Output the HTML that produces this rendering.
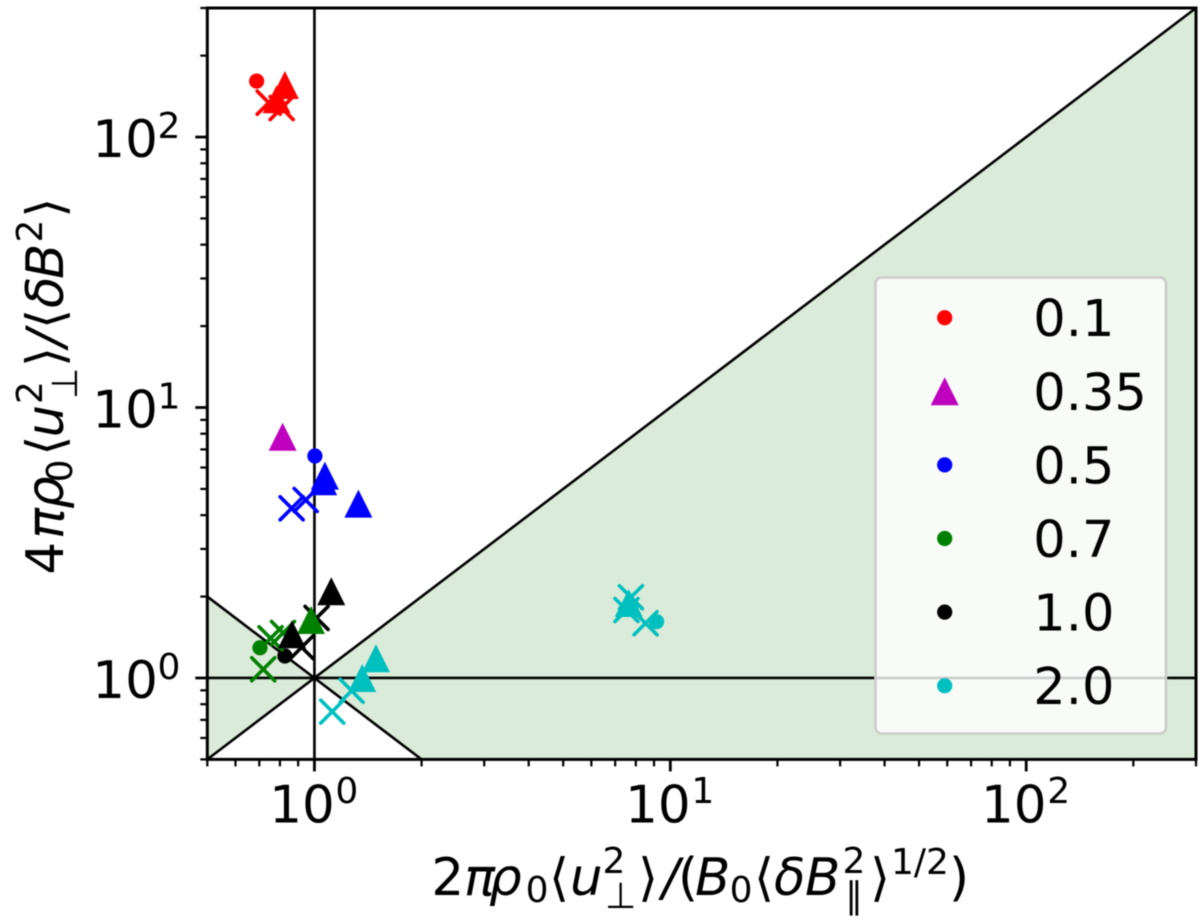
<!DOCTYPE html>
<html lang="en">
<head>
<meta charset="utf-8">
<title>Scatter chart</title>
<style>
html,body{margin:0;padding:0;background:#fff;}
svg{display:block;filter:blur(0.5px);}
text{font-family:"DejaVu Sans","Liberation Sans",sans-serif;fill:#000;}
.it{font-style:italic;}
</style>
</head>
<body>
<svg id="chart" xmlns="http://www.w3.org/2000/svg" width="1200" height="924" viewBox="0 0 1200 924">
  <g id="regions"></g>
  <g id="refs"></g>
  <g id="marks"></g>
  <g id="axes"></g>
  <g id="legend"></g>

  <g font-size="51.5">
    <text x="431.4" y="895">2</text>
    <text class="it" x="464" y="895">π</text>
    <text class="it" x="489" y="895">ρ</text>
    <text x="525.6" y="902" font-size="36">0</text>
    <text x="549" y="895">⟨</text>
    <text class="it" x="570" y="895">u</text>
    <text x="602.5" y="873" font-size="36">2</text>
    <text x="605" y="908" font-size="36">⊥</text>
    <text x="638" y="895">⟩</text>
    <text class="it" x="662" y="895">/</text>
    <text x="678" y="895">(</text>
    <text class="it" x="695" y="895">B</text>
    <text x="729.6" y="902" font-size="36">0</text>
    <text x="754" y="895">⟨</text>
    <text class="it" x="774" y="895">δ</text>
    <text class="it" x="805" y="895">B</text>
    <text x="842.5" y="873" font-size="36">2</text>
    <text x="845" y="908" font-size="36">∥</text>
    <text x="870" y="895">⟩</text>
    <text x="891" y="874" font-size="36">1/2</text>
    <text x="949" y="895">)</text>
  </g>

  <g font-size="51.5" transform="translate(63,0) rotate(-90)">
    <text x="-574.6" y="0">4</text>
    <text class="it" x="-539" y="0">π</text>
    <text class="it" x="-509" y="0">ρ</text>
    <text x="-482.4" y="9" font-size="36">0</text>
    <text x="-455.7" y="0">⟨</text>
    <text class="it" x="-437.5" y="0">u</text>
    <text x="-404" y="-21" font-size="36">2</text>
    <text x="-399" y="14" font-size="36">⊥</text>
    <text x="-367" y="0">⟩</text>
    <text class="it" x="-347" y="0">/</text>
    <text x="-329" y="0">⟨</text>
    <text class="it" x="-308" y="0">δ</text>
    <text class="it" x="-279" y="0">B</text>
    <text x="-242.5" y="-21" font-size="36">2</text>
    <text x="-217.7" y="0">⟩</text>
  </g>
</svg>

<script>
const xTickLabels = ['0', '1', '2'];
const yTickLabels = ['0', '1', '2'];
const xMinorTicks = [0.5, 0.6, 0.7, 0.8, 0.9, 2, 3, 4, 5, 6, 7, 8, 9, 20, 30, 40, 50, 60, 70, 80, 90, 200, 300];
const yMinorTicks = [0.5, 0.6, 0.7, 0.8, 0.9, 2, 3, 4, 5, 6, 7, 8, 9, 20, 30, 40, 50, 60, 70, 80, 90, 200, 300];

const legendLabels = ['0.1', '0.35', '0.5', '0.7', '1.0', '2.0'];
const legendShapes = ['circle', 'triangle', 'circle', 'circle', 'circle', 'circle'];

const circleSeries = ['0.1', '0.5', '0.7', '1.0', '2.0', '2.0'];
const circleX = [0.688, 1.003, 0.703, 0.826, 9.15, 7.75];
const circleY = [161, 6.62, 1.294, 1.206, 1.615, 1.845];

const crossSeries = ['0.1', '0.1', '0.5', '0.5', '0.7', '0.7', '0.7', '1.0', '1.0', '2.0', '2.0', '2.0', '2.0', '2.0'];
const crossX = [0.744, 0.809, 0.863, 0.945, 0.718, 0.753, 0.816, 1.014, 0.921, 1.272, 1.122, 8.52, 7.75, 7.53];
const crossY = [134, 128, 4.24, 4.55, 1.077, 1.402, 1.467, 1.667, 1.299, 0.897, 0.751, 1.593, 1.988, 1.784];

const triangleSeries = ['0.1', '0.1', '0.35', '0.5', '0.5', '0.5', '0.7', '1.0', '1.0', '2.0', '2.0', '2.0'];
const triangleX = [0.826, 0.783, 0.814, 1.07, 1.058, 1.329, 0.978, 1.115, 0.865, 1.489, 1.362, 7.64];
const triangleY = [155.7, 138, 7.80, 5.60, 5.34, 4.41, 1.638, 2.092, 1.451, 1.183, 1.0, 1.893];

const seriesColor = {'0.1':'#ff0000','0.35':'#bf00bf','0.5':'#0000ff','0.7':'#008000','1.0':'#000000','2.0':'#00bfbf'};

const NS = 'http://www.w3.org/2000/svg';
const xDomain = [0.5, 300];
const yDomain = [0.5, 300];
const plotLeft = 207.3, plotRight = 1196, plotTop = 8, plotBottom = 759.4;
const xDecade = (plotRight - plotLeft) / (Math.log10(xDomain[1]) - Math.log10(xDomain[0]));
const yDecade = (plotBottom - plotTop) / (Math.log10(yDomain[1]) - Math.log10(yDomain[0]));
function sx(v){ return plotLeft + (Math.log10(v) - Math.log10(xDomain[0])) * xDecade; }
function sy(v){ return plotBottom - (Math.log10(v) - Math.log10(yDomain[0])) * yDecade; }
function mk(tag, attrs, parent, txt){
  const el = document.createElementNS(NS, tag);
  for (const k in attrs) el.setAttribute(k, attrs[k]);
  if (txt !== undefined) el.textContent = txt;
  parent.appendChild(el);
  return el;
}
const R_CIRCLE = 7.6, R_TRI = 14, R_CROSS = 11.5;
function triPts(px, py){
  return (px)+','+(py-R_TRI)+' '+(px-R_TRI)+','+(py+R_TRI)+' '+(px+R_TRI)+','+(py+R_TRI);
}

/* shaded regions */
const regions = document.getElementById('regions');
function polyPts(pairs){ return pairs.map(p => sx(p[0]) + ',' + sy(p[1])).join(' '); }
const leftRegion = mk('polygon', {points: polyPts([[0.5,2],[1,1],[0.5,0.5]]), fill:'#dbebd9'}, regions);


const rightRegion = mk('polygon', {points: polyPts([[1,1],[2,0.5],[300,0.5],[300,300]]), fill:'#dbebd9'}, regions);



/* reference lines */
const refs = document.getElementById('refs');
function refLine(a, b, name){
  const l = mk('line', {x1:sx(a[0]), y1:sy(a[1]), x2:sx(b[0]), y2:sy(b[1]), stroke:'#000', 'stroke-width':2.6}, refs);
  
  
}
refLine([0.5,0.5],[300,300],'diagonal-line');
refLine([0.5,2],[2,0.5],'anti-diagonal-line');
refLine([1,0.5],[1,300],'vertical-line-x1');
refLine([0.5,1],[300,1],'horizontal-line-y1');

/* marks */
const marks = document.getElementById('marks');
circleX.forEach((v, i) => {
  const c = mk('circle', {cx:sx(v), cy:sy(circleY[i]), r:R_CIRCLE, fill:seriesColor[circleSeries[i]]}, marks);
  
  
});
crossX.forEach((v, i) => {
  const px = sx(v), py = sy(crossY[i]);
  const d = 'M'+(px-R_CROSS)+' '+(py-R_CROSS)+'L'+(px+R_CROSS)+' '+(py+R_CROSS)+'M'+(px-R_CROSS)+' '+(py+R_CROSS)+'L'+(px+R_CROSS)+' '+(py-R_CROSS);
  const p = mk('path', {d:d, fill:'none', stroke:seriesColor[crossSeries[i]], 'stroke-width':3.6, 'stroke-linecap':'round'}, marks);
  
  
});
triangleX.forEach((v, i) => {
  const t = mk('polygon', {points:triPts(sx(v), sy(triangleY[i])), fill:seriesColor[triangleSeries[i]]}, marks);
  
  
});

/* axes */
const axes = document.getElementById('axes');
const TICK_W = 2.8;
xMinorTicks.forEach(v => {
  const l = mk('line', {x1:sx(v), x2:sx(v), y1:plotBottom, y2:plotBottom+7, stroke:'#000', 'stroke-width':2.2}, axes);
  
  
});
yMinorTicks.forEach(v => {
  const l = mk('line', {y1:sy(v), y2:sy(v), x1:plotLeft, x2:plotLeft-7, stroke:'#000', 'stroke-width':2.2}, axes);
  
  
});
xTickLabels.forEach(e => {
  const px = sx(Math.pow(10, +e));
  const l = mk('line', {x1:px, x2:px, y1:plotBottom, y2:plotBottom+12, stroke:'#000', 'stroke-width':TICK_W}, axes);
  
  
  const t = mk('text', {x:px-45.2, y:822.7, 'font-size':51.5}, axes, '10');
  
  
  const s = mk('text', {x:px+21, y:803, 'font-size':36}, axes, e);
  
  
});
yTickLabels.forEach(e => {
  const py = sy(Math.pow(10, +e));
  const l = mk('line', {x1:plotLeft, x2:plotLeft-12, y1:py, y2:py, stroke:'#000', 'stroke-width':TICK_W}, axes);
  
  
  const t = mk('text', {x:92.3, y:py+20, 'font-size':51.5}, axes, '10');
  
  
  const s = mk('text', {x:157.5, y:py+1, 'font-size':36}, axes, e);
  
  
});
const frame = mk('rect', {x:plotLeft, y:plotTop, width:plotRight-plotLeft, height:plotBottom-plotTop, fill:'none', stroke:'#000', 'stroke-width':3}, axes);



/* legend */
const legend = document.getElementById('legend');
const legendBox = mk('rect', {x:875.5, y:277.5, width:290.5, height:456, rx:6, ry:6, fill:'#ffffff', 'fill-opacity':0.8, stroke:'#cccccc', 'stroke-width':2.6}, legend);


legendLabels.forEach((lab, i) => {
  const y = 317.7 + i * 73.6;
  const color = seriesColor[lab];
  if (legendShapes[i] === 'triangle') {
    const m = mk('polygon', {points:triPts(944.7, y), fill:color}, legend);
    
    
  } else {
    const m = mk('circle', {cx:944.7, cy:y, r:R_CIRCLE, fill:color}, legend);
    
    
  }
  const t = mk('text', {x:1033.3, y:y+18.5, 'font-size':51}, legend, lab);
  
  
});
</script>
</body>
</html>
